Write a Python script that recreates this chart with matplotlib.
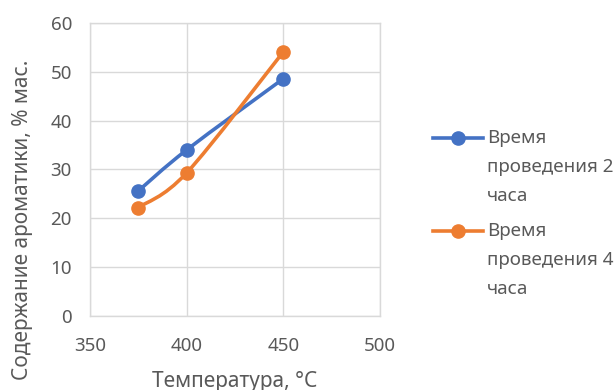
import matplotlib
matplotlib.use("Agg")
import matplotlib.pyplot as plt
import numpy as np
from matplotlib.path import Path
from matplotlib.patches import PathPatch
from matplotlib.lines import Line2D

# data
temps = [375, 400, 450]
arom_2h = [25.6, 34.0, 48.6]
arom_4h = [22.2, 29.3, 54.1]
labels = ["Время\nпроведения 2\nчаса", "Время\nпроведения 4\nчаса"]
colors = ["#4472C4", "#ED7D31"]

GRID = "#D9D9D9"
TXT = "#595959"
plt.rcParams["font.family"] = ["Noto Sans", "DejaVu Sans"]


def smooth_path(xs, ys):
    # Excel-style smoothed line: cubic Bezier through the points
    pts = np.column_stack([xs, ys]).astype(float)
    n = len(pts)
    verts, codes = [pts[0]], [Path.MOVETO]
    for i in range(n - 1):
        p0 = pts[max(i - 1, 0)]
        p1, p2 = pts[i], pts[i + 1]
        p3 = pts[min(i + 2, n - 1)]
        c1 = p1 + (p2 - p0) / 6.0
        c2 = p2 - (p3 - p1) / 6.0
        verts += [c1, c2, p2]
        codes += [Path.CURVE4] * 3
    return Path(verts, codes)


fig = plt.figure(figsize=(6.16, 3.9), dpi=100)
ax = fig.add_axes([0.146, 0.190, 0.471, 0.751])

for ys, c in zip([arom_2h, arom_4h], colors):
    ax.add_patch(PathPatch(smooth_path(temps, ys), fill=False, edgecolor=c,
                           lw=2.6, capstyle="round", zorder=3))
    ax.plot(temps, ys, ls="none", marker="o", ms=9.5, color=c, zorder=4)

ax.set_xlim(350, 500)
ax.set_ylim(0, 60)
ax.set_xticks(np.arange(350, 501, 50))
ax.set_yticks(np.arange(0, 61, 10))
ax.grid(True, color=GRID, lw=1)
ax.set_axisbelow(True)
for s in ax.spines.values():
    s.set_color(GRID)
    s.set_linewidth(1)
ax.tick_params(length=0, labelsize=13.5, labelcolor=TXT)
ax.tick_params(axis="x", pad=15)
ax.tick_params(axis="y", pad=13)
ax.set_xlabel("Температура, °С", fontsize=15, color=TXT, labelpad=12)
ax.set_ylabel("Содержание ароматики, % мас.", fontsize=15, color=TXT)
W, H = 616.0, 390.0
ax.yaxis.set_label_coords(-0.232, (316 - 220) / 293.0)
ax.yaxis.label.set_va("center")

# legend drawn by hand: handle aligned with the first text line
for k, (lab, c) in enumerate(zip(labels, colors)):
    yl = 1 - (138 + k * 93) / H
    fig.add_artist(Line2D([433 / W, 483 / W], [yl, yl], color=c, lw=2.6,
                          transform=fig.transFigure))
    fig.add_artist(Line2D([458 / W], [yl], marker="o", ms=9.5, color=c,
                          transform=fig.transFigure))
    fig.text(487 / W, yl + 9 / H, lab, fontsize=13.5, color=TXT, va="top",
             ha="left", linespacing=1.8)

fig.savefig("out.png", dpi=100)
